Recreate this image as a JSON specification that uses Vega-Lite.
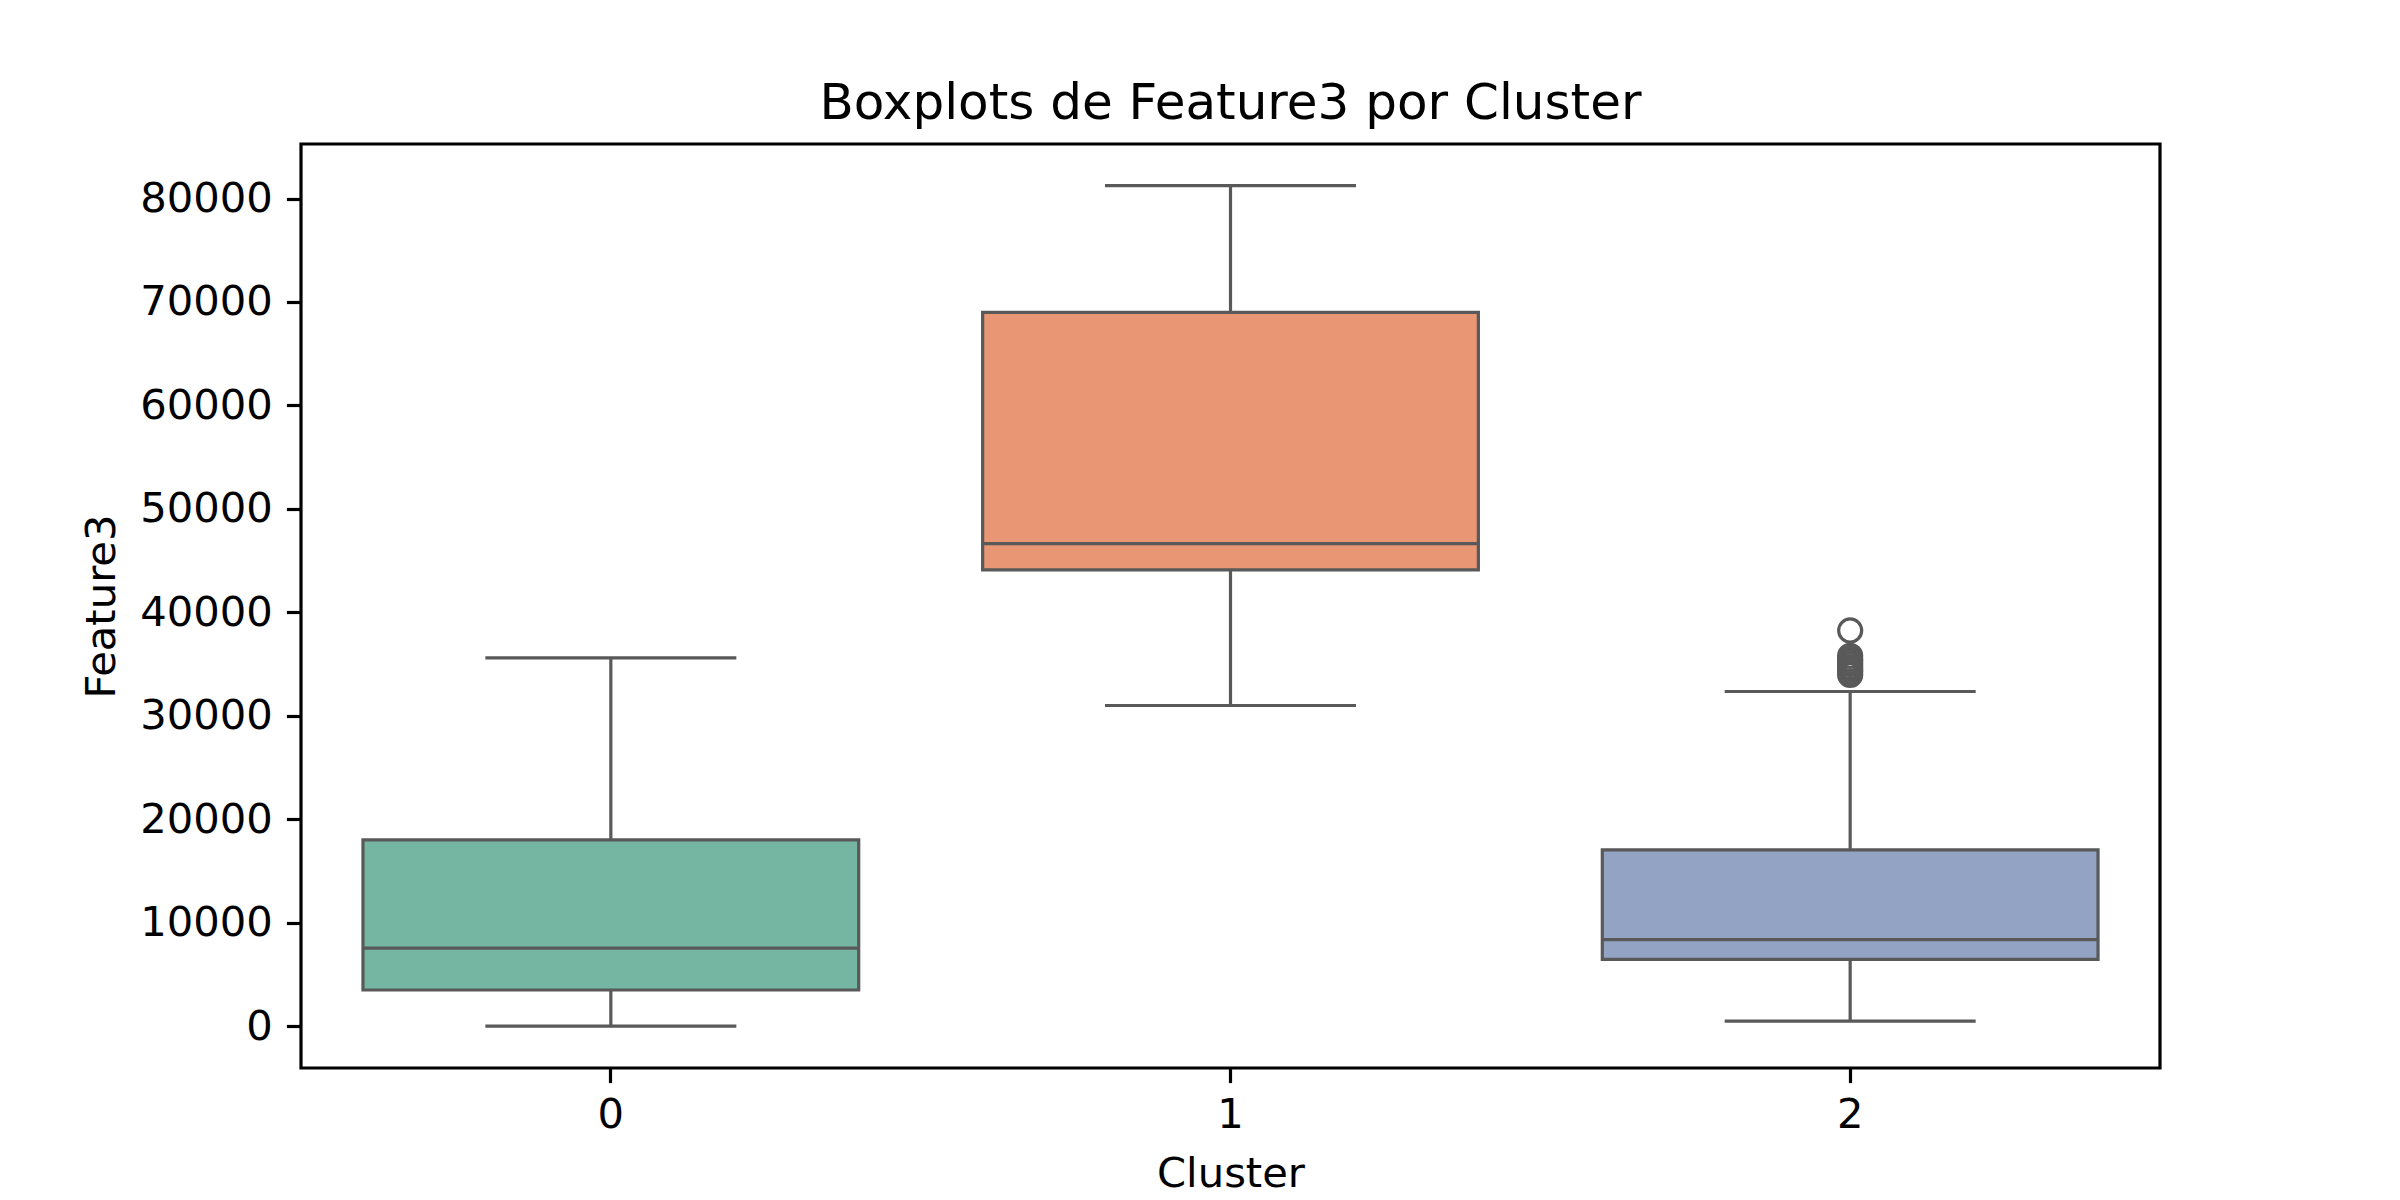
{
  "$schema": "https://vega.github.io/schema/vega-lite/v6.json",
  "autosize": "none",
  "width": 1859,
  "height": 924,
  "padding": {"left": 301, "top": 144, "right": 240, "bottom": 132},
  "background": "white",
  "config": {
    "font": "DejaVu Sans",
    "view": {"stroke": "black", "strokeWidth": 3.2},
    "axis": {"grid": false, "domain": false, "tickColor": "black", "tickWidth": 3.2, "tickSize": 14.6, "labelFontSize": 41.7, "labelColor": "black", "titleFontSize": 41.7, "titleFontWeight": "normal", "titleColor": "black", "labelFont": "DejaVu Sans", "titleFont": "DejaVu Sans"}
  },
  "title": {"text": "Boxplots de Feature3 por Cluster", "fontSize": 50, "fontWeight": "normal", "font": "DejaVu Sans", "color": "black", "offset": 15},
  "datasets": {
    "stats": [
      {"Cluster": "0", "lower": 0, "q1": 3500, "median": 7550, "q3": 18000, "upper": 35600},
      {"Cluster": "1", "lower": 31000, "q1": 44100, "median": 46650, "q3": 69000, "upper": 81250},
      {"Cluster": "2", "lower": 500, "q1": 6450, "median": 8370, "q3": 17050, "upper": 32350}
    ],
    "outliers": [
      {"Cluster": "2", "Feature3": 38250},
      {"Cluster": "2", "Feature3": 35800},
      {"Cluster": "2", "Feature3": 35500},
      {"Cluster": "2", "Feature3": 35250},
      {"Cluster": "2", "Feature3": 35000},
      {"Cluster": "2", "Feature3": 34700},
      {"Cluster": "2", "Feature3": 34450},
      {"Cluster": "2", "Feature3": 34200},
      {"Cluster": "2", "Feature3": 33950}
    ]
  },
  "encoding": {
    "x": {"field": "Cluster", "type": "nominal", "scale": {"domain": ["0", "1", "2"], "paddingInner": 0, "paddingOuter": 0},
      "axis": {"title": "Cluster", "labelAngle": 0, "labelPadding": 12, "titlePadding": 17}}
  },
  "layer": [
    {
      "data": {"name": "stats"},
      "mark": {"type": "rule", "color": "#595959", "strokeWidth": 3.2},
      "encoding": {
        "y": {"field": "lower", "type": "quantitative", "scale": {"domain": [-4040, 85270], "nice": false, "zero": false},
          "axis": {"title": "Feature3", "values": [0, 10000, 20000, 30000, 40000, 50000, 60000, 70000, 80000], "format": "d", "labelPadding": 14, "titlePadding": 16}},
        "y2": {"field": "upper"}
      }
    },
    {
      "data": {"name": "stats"},
      "mark": {"type": "tick", "color": "#595959", "thickness": 3.2, "size": 251, "opacity": 1},
      "encoding": {"y": {"field": "lower", "type": "quantitative"}}
    },
    {
      "data": {"name": "stats"},
      "mark": {"type": "tick", "color": "#595959", "thickness": 3.2, "size": 251, "opacity": 1},
      "encoding": {"y": {"field": "upper", "type": "quantitative"}}
    },
    {
      "data": {"name": "stats"},
      "mark": {"type": "bar", "width": {"band": 0.8}, "stroke": "#595959", "strokeWidth": 3.2, "opacity": 1},
      "encoding": {
        "y": {"field": "q1", "type": "quantitative"},
        "y2": {"field": "q3"},
        "color": {"field": "Cluster", "type": "nominal", "scale": {"domain": ["0", "1", "2"], "range": ["#74b6a1", "#e89674", "#93a3c3"]}, "legend": null}
      }
    },
    {
      "data": {"name": "stats"},
      "mark": {"type": "tick", "color": "#595959", "thickness": 3.2, "size": 496, "opacity": 1},
      "encoding": {"y": {"field": "median", "type": "quantitative"}}
    },
    {
      "data": {"name": "outliers"},
      "mark": {"type": "point", "shape": "circle", "filled": false, "stroke": "#595959", "strokeWidth": 3.2, "size": 530, "opacity": 1},
      "encoding": {"y": {"field": "Feature3", "type": "quantitative"}}
    }
  ]
}
